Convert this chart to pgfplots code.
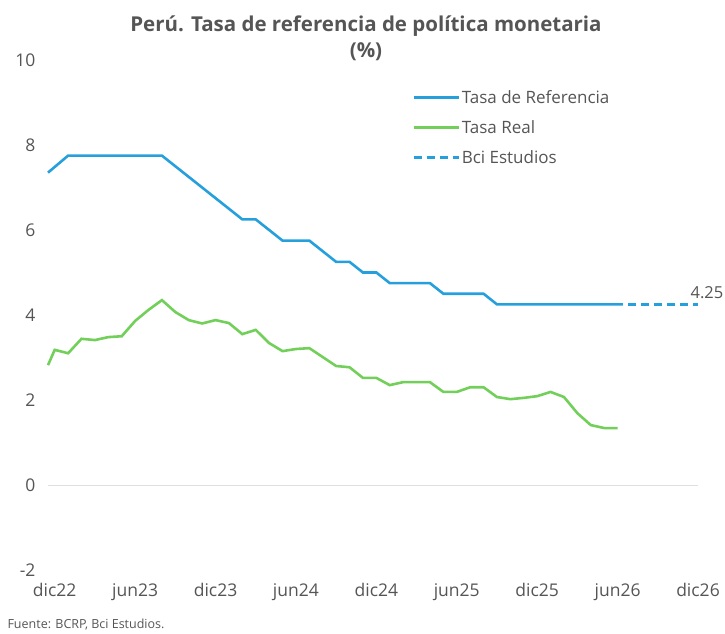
\documentclass[border=0pt]{standalone}
\usepackage{pgfplots}
\pgfplotsset{compat=1.18}
\usepackage{fontspec}
\setmainfont{Open Sans}
\definecolor{cblue}{HTML}{26A0DC}
\definecolor{cgreen}{HTML}{72D05A}
\definecolor{ctext}{HTML}{555555}
\begin{document}
\begin{tikzpicture}
\path[use as bounding box] (0pt,0pt) rectangle (725pt,633pt);
\node[font=\fontsize{20.5}{22}\selectfont\bfseries, text=ctext, align=center] at (366pt,595pt) {Perú. Tasa de referencia de política monetaria\\[4pt](\%)};
\node[font=\fontsize{12.5}{15}\selectfont, text=ctext, anchor=west] at (4pt,8pt) {Fuente: BCRP, Bci Estudios.};
\begin{axis}[
  at={(48pt,63pt)}, anchor=south west,
  scale only axis, width=650pt, height=510pt,
  xmin=-0.5, xmax=48, ymin=-2, ymax=10,
  clip=false,
  axis line style={draw=none},
  major tick style={draw=none},
  xtick={0,6,12,18,24,30,36,42,48},
  xticklabels={dic22,jun23,dic23,jun24,dic24,jun25,dic25,jun26,dic26},
  ytick={-2,0,2,4,6,8,10},
  yticklabels={-2,0,2,4,6,8,10},
  tick label style={font=\fontsize{17.5}{20}\selectfont, text=ctext},
  yticklabel style={anchor=east, xshift=-9pt},
  xticklabel style={anchor=north, yshift=-10pt},
  legend style={at={(rel axis cs:0.56,0.945)}, anchor=north west, draw=none, fill=none,
    font=\fontsize{17}{20}\selectfont, text=ctext, row sep=11.5pt, inner sep=0pt},
  legend cell align=left,
  legend image code/.code={\draw[#1] (0pt,0pt) -- (45pt,0pt);},
]
\draw[gray!25, line width=1pt] (axis cs:-0.5,0) -- (axis cs:48,0);
\addplot[cblue, line width=2.6pt] coordinates {
(-0.5,7.35) (1,7.75) (8,7.75) (14,6.25) (15,6.25) (17,5.75) (19,5.75) (21,5.25) (22,5.25) (23,5.0) (24,5.0) (25,4.75) (28,4.75) (29,4.5) (32,4.5) (33,4.25) (42.4,4.25)};
\addlegendentry{Tasa de Referencia}
\addplot[cgreen, line width=2.6pt] coordinates {
(-0.5,2.82) (0,3.18) (1,3.1) (2,3.44) (3,3.41) (4,3.48) (5,3.5) (6,3.86) (7,4.12) (8,4.35) (9,4.07) (10,3.88) (11,3.8) (12,3.88) (13,3.81) (14,3.55) (15,3.65) (16,3.34) (17,3.15) (18,3.2) (19,3.22) (20,3.01) (21,2.8) (22,2.77) (23,2.52) (24,2.52) (25,2.35) (26,2.42) (27,2.42) (28,2.42) (29,2.19) (30,2.19) (31,2.3) (32,2.3) (33,2.07) (34,2.02) (35,2.05) (36,2.09) (37,2.19) (38,2.07) (39,1.69) (40,1.41) (41,1.34) (42,1.34)};
\addlegendentry{Tasa Real}
\addplot[cblue, line width=2.6pt, dash pattern=on 8pt off 5pt] coordinates {(42.8,4.25) (48,4.25)};
\addlegendentry{Bci Estudios}
\node[font=\fontsize{16.5}{19}\selectfont, text=ctext, anchor=south] at (axis cs:48,4.25) [xshift=9pt, yshift=2pt] {4.25};
\end{axis}
\end{tikzpicture}
\end{document}
